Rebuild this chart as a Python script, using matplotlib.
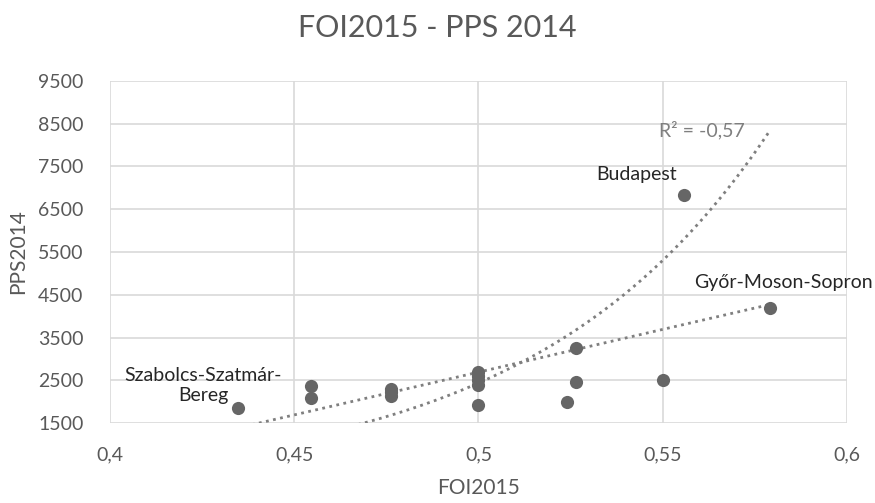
import numpy as np
import matplotlib.pyplot as plt

plt.rcParams['font.family'] = ['Lato', 'DejaVu Sans']

# data
foi2015 = [0.4347, 0.4545, 0.4545, 0.4763, 0.4763, 0.4763, 0.5, 0.5, 0.5, 0.5, 0.5,
           0.524, 0.5264, 0.5264, 0.55, 0.579, 0.5557]
pps2014 = [1850, 2370, 2090, 2300, 2230, 2130, 2700, 2600, 2500, 2400, 1930,
           2000, 2460, 3250, 2500, 4200, 6830]

labels = {"Budapest": (0.5557, 6830),
          "Győr-Moson-Sopron": (0.579, 4200),
          "Szabolcs-Szatmár-\nBereg": (0.4347, 1850)}

# trendline coefficients
lin_at_05, lin_slope = 2690, 20000
exp_at_05, exp_rate = 2435, 15.57
r2_text = "R² = -0,57"

xticks = [0.4, 0.45, 0.5, 0.55, 0.6]
yticks = list(range(1500, 9501, 1000))

fig = plt.figure(figsize=(8.75, 5.03), dpi=100)
ax = fig.add_axes([0.1257, 0.159, 0.8423, 0.68])

gray = '#595959'
ax.grid(True, color='#d9d9d9', linewidth=1.2)
ax.set_axisbelow(True)
for s in ax.spines.values():
    s.set_visible(False)

xs = np.linspace(min(foi2015), max(foi2015), 200)
ax.plot(xs, lin_at_05 + lin_slope * (xs - 0.5), linestyle=(0, (1, 1.6)),
        color='#7f7f7f', linewidth=2)
ax.plot(xs, exp_at_05 * np.exp(exp_rate * (xs - 0.5)), linestyle=(0, (1, 1.6)),
        color='#7f7f7f', linewidth=2)

ax.scatter(foi2015, pps2014, s=90, color='#666666', zorder=3, linewidths=0)

ax.set_xlim(0.4, 0.6)
ax.set_ylim(1500, 9500)
ax.set_xticks(xticks)
ax.set_yticks(yticks)
ax.set_xticklabels([str(t).replace('.', ',') for t in xticks])
ax.set_yticklabels([str(t) for t in yticks])
ax.tick_params(length=0, labelsize=14, labelcolor=gray)
ax.tick_params(axis='x', pad=17)
ax.tick_params(axis='y', pad=19)

ax.set_xlabel("FOI2015", fontsize=15, color=gray, labelpad=10)
ax.set_ylabel("PPS2014", fontsize=15, color=gray, labelpad=7)
fig.text(0.5, 0.944, "FOI2015 - PPS 2014", fontsize=22, color=gray,
         ha='center', va='center')

lab_color = '#262626'
ax.annotate("Budapest", labels["Budapest"], xytext=(-34, 14.5),
            textcoords='offset points', ha='center', va='center',
            fontsize=14, color=lab_color)
ax.annotate("Győr-Moson-Sopron", labels["Győr-Moson-Sopron"], xytext=(10, 18),
            textcoords='offset points', ha='center', va='center',
            fontsize=14, color=lab_color)
ax.annotate("Szabolcs-Szatmár-\nBereg", labels["Szabolcs-Szatmár-\nBereg"],
            xytext=(-25, 16.5), textcoords='offset points', ha='center', va='center',
            fontsize=14, color=lab_color, multialignment='center', linespacing=1.2)

ax.text(0.5607, 8354, r2_text, fontsize=14, color='#7f7f7f', ha='center', va='center')

fig.savefig("out.png", dpi=100)
